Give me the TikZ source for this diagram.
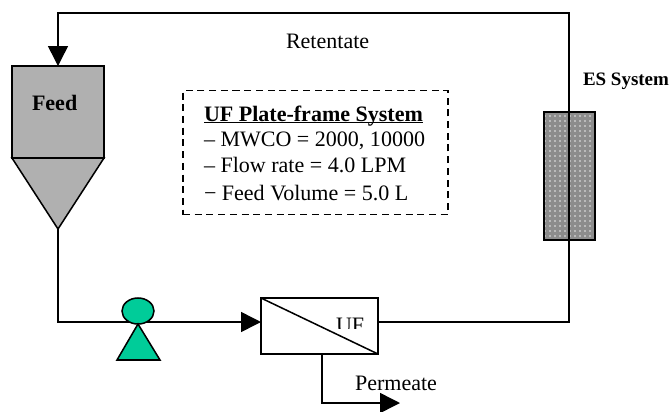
\documentclass[tikz,border=0pt]{standalone}
\usepackage{fontspec}
\setmainfont{Liberation Serif}
\usetikzlibrary{arrows.meta,patterns.meta,shapes.geometric}
\definecolor{pumpgreen}{RGB}{0,204,153}
\begin{document}
\begin{tikzpicture}[x=.03cm,y=-.03cm,inner sep=0pt,outer sep=0pt,line width=1.3pt,
>={Triangle[length=.6cm,width=.6cm]},
lbl/.style={anchor=base west,font=\fontsize{18.8}{20}\selectfont},
blbl/.style={anchor=base west,font=\fontsize{18.8}{20}\bfseries\selectfont},
tank/.style={draw,rectangle,fill=black!31,minimum width=2.76cm,minimum height=2.76cm},
membrane/.style={draw,rectangle,fill=white,minimum width=3.51cm,minimum height=1.68cm},
column/.style={draw,rectangle,minimum width=1.53cm,minimum height=3.84cm,
  preaction={fill=black!45},
  preaction={pattern={Dots[distance=1.5mm,radius=.7pt]},pattern color=black!8}},
infobox/.style={draw,rectangle,dashed,dash pattern=on 6pt off 4pt,minimum width=7.95cm,minimum height=3.72cm}]
\useasboundingbox (0,0) rectangle (670,411);
\draw (58,112) node[tank] (feed) {};
\draw (319.5,326) node[membrane] (UF) {};
\draw (569.5,176) node[column] (ES) {};
\draw (315.5,152.5) node[infobox] (info) {};
\coordinate (coneTip) at (58,229);
\coordinate (UFin) at (261,322);
\coordinate (UFout) at (378,322);
\coordinate (UFdrain) at (322,354);
\coordinate (permEnd) at (400,403);
\coordinate (retCorner) at (569,13);
\coordinate (retLeft) at (58,13);

\draw[fill=black!31] (feed.south west) -- (feed.south east) -- (coneTip) -- cycle;
\draw[->] (coneTip) |- (UFin);
\draw[->] (UFout) -| (retCorner) -- (retLeft) -- (feed.north);
\draw[->] (UFdrain) |- (permEnd);

% pump
\draw (138,311) node[draw,ellipse,fill=pumpgreen,minimum width=.96cm,minimum height=.78cm] (pump) {};
\draw[fill=pumpgreen] (pump.south) -- (160,360) -- (117,360) -- cycle;

% clipped label in the membrane box
\begin{scope}
\clip (UF.north west) rectangle (378,328);
\draw (336,332.5) node[lbl] (UFlabel) {UF};
\end{scope}
\draw (UF.north west) -- (UF.south east);

\draw (32,110) node[blbl] (feedlabel) {Feed};
\draw (583,85) node[blbl,font=\fontsize{16.2}{18}\bfseries\selectfont] (ESlabel) {ES System};
\draw (286,48) node[lbl] (retlabel) {Retentate};
\draw (355,390) node[lbl] (permlabel) {Permeate};
\draw (204,121) node[blbl] (infotitle) {\underline{\smash{UF Plate-frame System}}};
\draw (204,146) node[lbl] (info1) {– MWCO = 2000, 10000};
\draw (204,172) node[lbl] (info2) {– Flow rate = 4.0 LPM};
\draw (204,200) node[lbl] (info3) {− Feed Volume = 5.0 L};
\end{tikzpicture}
\end{document}
